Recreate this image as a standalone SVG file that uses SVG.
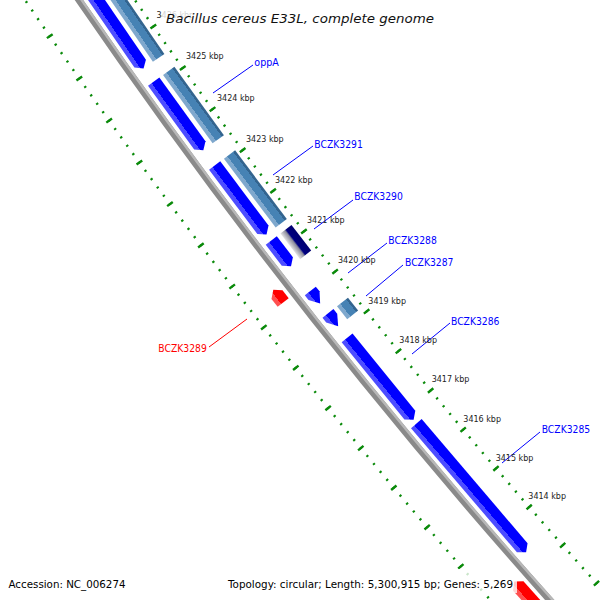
<svg xmlns="http://www.w3.org/2000/svg" width="600" height="600" viewBox="0 0 600 600">
<defs>
<style>
.ru{fill:none;stroke:#0a8a0a}
.bb{fill:none}
.kbp{font-family:"DejaVu Sans",sans-serif;font-size:8px;fill:#222}
.lab{font-family:"DejaVu Sans",sans-serif;font-size:10.5px}
.lb{fill:#0000ff}
.lr{fill:#ff0000}
.cb{stroke:#0000ff;stroke-width:1}
.cr{stroke:#ff0000;stroke-width:1}
.ft{font-family:"DejaVu Sans",sans-serif;font-size:11px;fill:#000}
.ttl{font-family:"DejaVu Sans",sans-serif;font-size:13px;font-style:italic;fill:#111}
.fb{fill:url(#gB)}
.fs{fill:url(#gS)}
.fr{fill:url(#gR)}
.fn{fill:url(#gN)}
</style>
<linearGradient id="gB" x1="0" y1="0" x2="1" y2="0">
<stop offset="0" stop-color="#0000ff"/><stop offset="0.68" stop-color="#0000ff"/><stop offset="0.68" stop-color="#4d4dff"/><stop offset="1" stop-color="#4d4dff"/>
</linearGradient>
<linearGradient id="gS" x1="0" y1="0" x2="1" y2="0">
<stop offset="0" stop-color="#33648f"/><stop offset="0.18" stop-color="#33648f"/><stop offset="0.18" stop-color="#4682b4"/><stop offset="0.7" stop-color="#4682b4"/><stop offset="0.7" stop-color="#7fa8cd"/><stop offset="1" stop-color="#7fa8cd"/>
</linearGradient>
<linearGradient id="gR" x1="0" y1="0" x2="1" y2="0">
<stop offset="0" stop-color="#ff0000"/><stop offset="0.68" stop-color="#ff0000"/><stop offset="0.68" stop-color="#ff5050"/><stop offset="1" stop-color="#ff5050"/>
</linearGradient>
<linearGradient id="gN" x1="0" y1="0" x2="1" y2="0">
<stop offset="0" stop-color="#000070"/><stop offset="0.5" stop-color="#000080"/><stop offset="0.62" stop-color="#8c8c9c"/><stop offset="1" stop-color="#e4e4e4"/>
</linearGradient>
</defs>
<rect width="600" height="600" fill="#ffffff"/>
<g transform="translate(5036.9 -3405.7)">
<g id="rulers" transform="rotate(141.7271)">
<path class="ru" d="M5949.455,-482.645 A5969,5969 0 0 1 5949.455,482.645" stroke-width="2.5" stroke-dasharray="2 8.17201" stroke-dashoffset="1"/>
<path class="ru" d="M5949.455,-482.645 A5969,5969 0 0 1 5949.455,482.645" stroke-width="7" stroke-dasharray="2.4 48.46005" stroke-dashoffset="1.2"/>
<path class="ru" d="M6039.659,-489.963 A6059.5,6059.5 0 0 1 6039.659,489.963" stroke-width="2.5" stroke-dasharray="2 8.32624" stroke-dashoffset="1"/>
<path class="ru" d="M6039.659,-489.963 A6059.5,6059.5 0 0 1 6039.659,489.963" stroke-width="7" stroke-dasharray="2.4 49.2312" stroke-dashoffset="1.2"/>
</g>
<g id="backbone" transform="rotate(141.7271)">
<path class="bb" d="M5995.304,-486.364 A6015,6015 0 0 1 5995.304,486.364" stroke="#8a8a8a" stroke-width="7"/>
<path class="bb" d="M5993.062,-486.182 A6012.75,6012.75 0 0 1 5993.062,486.182" stroke="#b8b8b8" stroke-width="2.5"/>
</g>
<g id="features">
<g id="gene-a" transform="rotate(145.5625) translate(6000.5 0)"><polygon class="fb" points="-7,98.19 7,98.19 7,-92.19 0,-98.19 -7,-92.19"/></g>
<g id="gene-a-cog" transform="rotate(145.5625) translate(5982 0)"><rect class="fs" x="-7" y="-97.88" width="14" height="195.76"/></g>
<g id="oppA" transform="rotate(144.063) translate(6000.5 0)"><polygon class="fb" points="-7,42.31 7,42.31 7,-36.31 0,-42.31 -7,-36.31"/></g>
<g id="oppA-cog" transform="rotate(144.063) translate(5982 0)"><rect class="fs" x="-7" y="-42.18" width="14" height="84.36"/></g>
<g id="BCZK3291" transform="rotate(143.065) translate(6000.5 0)"><polygon class="fb" points="-7,43.15 7,43.15 7,-37.15 0,-43.15 -7,-37.15"/></g>
<g id="BCZK3291-cog" transform="rotate(143.065) translate(5982 0)"><rect class="fs" x="-7" y="-43.02" width="14" height="86.04"/></g>
<g id="BCZK3290" transform="rotate(142.4255) translate(6000.5 0)"><polygon class="fb" points="-7,16.18 7,16.18 7,-10.18 0,-16.18 -7,-10.18"/></g>
<g id="BCZK3290-cog" transform="rotate(142.4255) translate(5982 0)"><rect class="fn" x="-7" y="-16.13" width="14" height="32.26"/></g>
<g id="BCZK3289" transform="rotate(142.1197) translate(6029 0)"><polygon class="fr" points="-7,-8.04 7,-8.04 7,2.04 0,8.04 -7,2.04"/></g>
<g id="BCZK3288" transform="rotate(141.89475) translate(6000.5 0)"><polygon class="fb" points="-7,7.99 7,7.99 7,1.99 0,-7.99 -7,1.99"/></g>
<g id="BCZK3287" transform="rotate(141.6195) translate(6000.5 0)"><polygon class="fb" points="-7,8.22 7,8.22 7,2.22 0,-8.22 -7,2.22"/></g>
<g id="BCZK3287-cog" transform="rotate(141.6195) translate(5982 0)"><rect class="fs" x="-7" y="-8.2" width="14" height="16.4"/></g>
<g id="BCZK3286" transform="rotate(140.89805) translate(6000.5 0)"><polygon class="fb" points="-7,52.75 7,52.75 7,-46.75 0,-52.75 -7,-46.75"/></g>
<g id="BCZK3285" transform="rotate(139.542) translate(6000.5 0)"><polygon class="fb" points="-7,84.58 7,84.58 7,-78.58 0,-84.58 -7,-78.58"/></g>
<g id="gene-b" transform="rotate(138) translate(6029 0)"><polygon class="fr" points="-7,-63.14 7,-63.14 7,57.14 0,63.14 -7,57.14"/></g>
</g>
</g>
<g id="connectors">
<line class="cb" x1="213" y1="93" x2="253" y2="65"/>
<line class="cb" x1="273" y1="175" x2="313" y2="146"/>
<line class="cb" x1="314" y1="229" x2="353" y2="200"/>
<line class="cb" x1="348" y1="273" x2="387" y2="243"/>
<line class="cb" x1="366" y1="296" x2="403" y2="265"/>
<line class="cb" x1="412" y1="354" x2="450" y2="323"/>
<line class="cb" x1="502" y1="463" x2="540" y2="432"/>
<line class="cr" x1="247" y1="319" x2="209" y2="347"/>
</g>
<g id="ruler-labels">
<text class="kbp" x="156.5" y="18">3426 kbp</text>
<text class="kbp" x="186" y="59">3425 kbp</text>
<text class="kbp" x="217" y="100.5">3424 kbp</text>
<text class="kbp" x="246" y="141.5">3423 kbp</text>
<text class="kbp" x="275" y="182.5">3422 kbp</text>
<text class="kbp" x="307" y="223">3421 kbp</text>
<text class="kbp" x="338" y="263">3420 kbp</text>
<text class="kbp" x="368.3" y="303.5">3419 kbp</text>
<text class="kbp" x="399.3" y="342.5">3418 kbp</text>
<text class="kbp" x="431.7" y="382">3417 kbp</text>
<text class="kbp" x="463.3" y="421.5">3416 kbp</text>
<text class="kbp" x="495.7" y="460.5">3415 kbp</text>
<text class="kbp" x="528.3" y="498.5">3414 kbp</text>
</g>
<g id="feature-labels">
<text class="lab lb" x="254.3" y="65.5" textLength="24.5" lengthAdjust="spacingAndGlyphs">oppA</text>
<text class="lab lb" x="314.3" y="147.7" textLength="48.5" lengthAdjust="spacingAndGlyphs">BCZK3291</text>
<text class="lab lb" x="354.3" y="200.2" textLength="48.5" lengthAdjust="spacingAndGlyphs">BCZK3290</text>
<text class="lab lb" x="388.3" y="244" textLength="48.5" lengthAdjust="spacingAndGlyphs">BCZK3288</text>
<text class="lab lb" x="405" y="266" textLength="48.5" lengthAdjust="spacingAndGlyphs">BCZK3287</text>
<text class="lab lb" x="451" y="324.5" textLength="48.5" lengthAdjust="spacingAndGlyphs">BCZK3286</text>
<text class="lab lb" x="541.7" y="433" textLength="48.5" lengthAdjust="spacingAndGlyphs">BCZK3285</text>
<text class="lab lr" x="158.3" y="352" textLength="48.5" lengthAdjust="spacingAndGlyphs">BCZK3289</text>
</g>
<g id="title">
<rect x="162" y="5" width="276" height="24" fill="#ffffff" fill-opacity="0.8"/>
<text class="ttl" x="166" y="23" textLength="268" lengthAdjust="spacingAndGlyphs">Bacillus cereus E33L, complete genome</text>
</g>
<g id="footer">
<rect x="224" y="569" width="293" height="24" fill="#ffffff" fill-opacity="0.78"/>
<text class="ft" x="8.5" y="587.5" textLength="117" lengthAdjust="spacingAndGlyphs">Accession: NC_006274</text>
<text class="ft" x="228" y="587.5" textLength="285" lengthAdjust="spacingAndGlyphs">Topology: circular; Length: 5,300,915 bp; Genes: 5,269</text>
</g>
</svg>
